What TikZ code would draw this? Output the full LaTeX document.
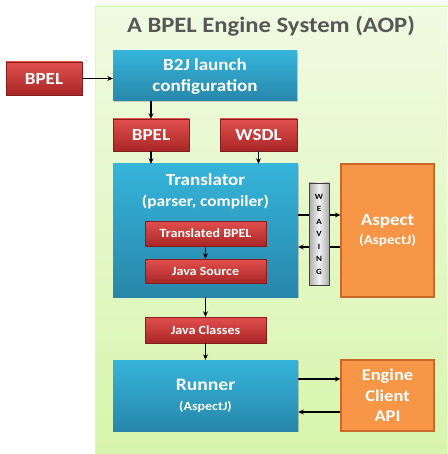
\documentclass[tikz,border=0pt]{standalone}
\usepackage{fontspec}
\setmainfont{Carlito}[FakeStretch=1.12]
\usetikzlibrary{arrows.meta,shadows}
\definecolor{redtop}{HTML}{E2504E}
\definecolor{redbot}{HTML}{A82626}
\definecolor{bluetop}{HTML}{36B4DA}
\definecolor{bluebot}{HTML}{2787AA}
\definecolor{orfill}{HTML}{F79646}
\definecolor{orline}{HTML}{C8692A}
\definecolor{bgtop}{HTML}{F0FBE2}
\definecolor{bgbot}{HTML}{D8F5AC}
\definecolor{titlegray}{HTML}{575757}
\tikzset{
  base/.style={rectangle,inner sep=0pt,align=center,text=white,font=\bfseries,
    drop shadow={shadow xshift=1.2pt,shadow yshift=-1.2pt,opacity=0.35}},
  redbox/.style={base,top color=redtop,bottom color=redbot,draw=redbot!80!black,line width=0.4pt},
  bluebox/.style={base,top color=bluetop,bottom color=bluebot,draw=none},
  orbox/.style={base,fill=orfill,draw=orline,line width=1.2pt},
  weavebox/.style={rectangle,inner sep=0pt,align=center,left color=gray!65,right color=gray!65,middle color=gray!10,draw=black!75,line width=0.8pt,font=\bfseries\fontsize{8}{12.5}\selectfont,
    drop shadow={shadow xshift=1.2pt,shadow yshift=-1.2pt,opacity=0.35}},
  arr/.style={line width=1.3pt,-{Stealth[length=5.5pt,width=5pt]}}
}
\begin{document}
\begin{tikzpicture}[x=1pt,y=-1pt]
\useasboundingbox (0,0) rectangle (447,454);
\fill[white] (0,0) rectangle (447,454);
\shade[top color=bgtop,bottom color=bgbot] (95,6) rectangle (447,454);
\draw[green!30!lime!35,line width=0.5pt] (95,454) -- (95,6) -- (447,6);

\node[font=\bfseries\fontsize{22}{24}\selectfont,text=titlegray] (title) at (271,26) {A BPEL Engine System (AOP)};

\node[redbox,minimum width=76pt,minimum height=33pt,font=\bfseries\fontsize{17}{18}\selectfont] (bpelin) at (44,78.5) {BPEL};
\node[bluebox,minimum width=184pt,minimum height=50pt,font=\bfseries\fontsize{17}{21}\selectfont] (b2j) at (205,76) {B2J launch\\configuration};
\node[redbox,minimum width=76pt,minimum height=32pt,font=\bfseries\fontsize{17}{18}\selectfont] (bpel) at (151,135) {BPEL};
\node[redbox,minimum width=77pt,minimum height=32pt,font=\bfseries\fontsize{17}{18}\selectfont] (wsdl) at (258.5,135) {WSDL};

\node[bluebox,minimum width=185pt,minimum height=133pt] (tr) at (205.5,230.5) {};
\node[text=white,align=center,inner sep=0pt,font=\bfseries\fontsize{17}{21}\selectfont] (trtext) at (205.5,191.5) {Translator\\{\fontsize{15.5}{17}\selectfont (parser, compiler)}};
\node[redbox,minimum width=121pt,minimum height=25pt,font=\bfseries\fontsize{12.5}{14}\selectfont] (tbpel) at (205.5,233.5) {Translated BPEL};
\node[redbox,minimum width=121pt,minimum height=24pt,font=\bfseries\fontsize{12.5}{14}\selectfont] (jsrc) at (205.5,271) {Java Source};

\node[orbox,minimum width=93pt,minimum height=133pt,font=\bfseries\fontsize{17}{19}\selectfont] (asp) at (387.5,230.5) {Aspect\\{\fontsize{13.5}{14}\selectfont (AspectJ)}};

\node[redbox,minimum width=121pt,minimum height=26pt,font=\bfseries\fontsize{12.5}{14}\selectfont] (jcls) at (205.5,330) {Java Classes};
\node[bluebox,minimum width=185pt,minimum height=71pt,font=\bfseries\fontsize{17.5}{20}\selectfont] (run) at (205.5,395.5) {Runner\\{\fontsize{12.5}{14}\selectfont (AspectJ)}};
\node[orbox,minimum width=93pt,minimum height=71pt,font=\bfseries\fontsize{16.5}{20.5}\selectfont] (eng) at (387.5,395.5) {Engine\\Client\\API};

\draw[arr] (bpelin.east) -- (bpelin.east -| b2j.west);
\draw[arr] (bpel.north |- b2j.south) -- (bpel.north);
\draw[arr] (bpel.south) -- (bpel.south |- tr.north);
\draw[arr] (wsdl.south) -- (wsdl.south |- tr.north);
\draw[arr] (tbpel.south) -- (jsrc.north);
\draw[arr] (tr.south) -- (jcls.north);
\draw[arr] (jcls.south) -- (run.north);
\draw[arr] ([yshift=15.5pt]tr.east) -- ([yshift=15.5pt]asp.west);
\draw[arr] ([yshift=-16.5pt]asp.west) -- ([yshift=-16.5pt]tr.east);
\draw[arr] ([yshift=16.5pt]run.east) -- ([yshift=16.5pt]eng.west);
\draw[arr] ([yshift=-16.5pt]eng.west) -- ([yshift=-16.5pt]run.east);

\node[weavebox,minimum width=20pt,minimum height=102pt] (weave) at (319,234) {W\\E\\A\\V\\I\\N\\G};
\end{tikzpicture}
\end{document}
